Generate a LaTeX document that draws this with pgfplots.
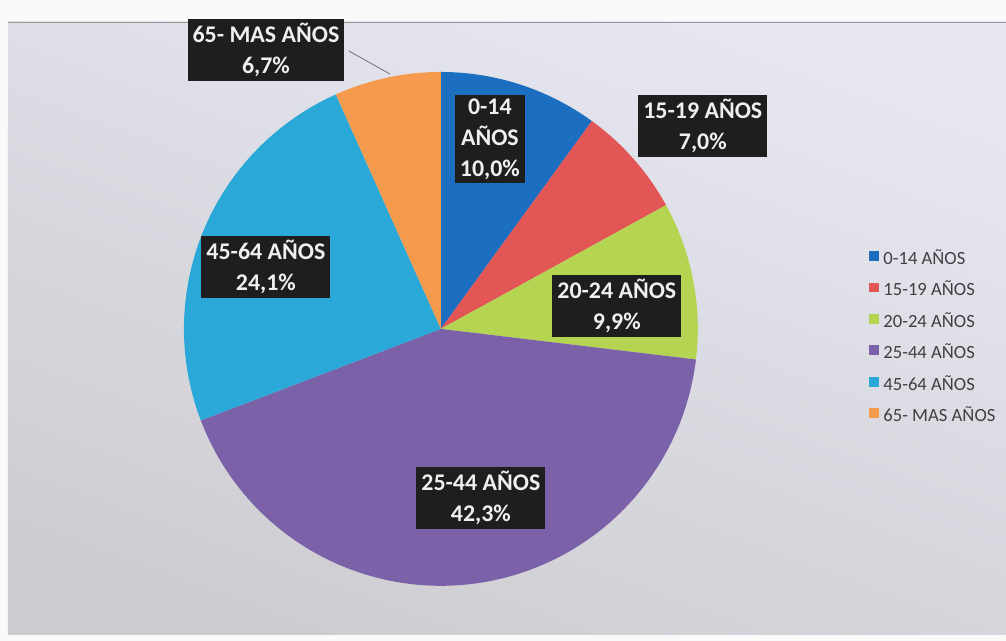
\documentclass[border=0pt]{standalone}
\usepackage{pgfplots}
\pgfplotsset{compat=1.18}
\usepackage{fontspec}
\setmainfont{Carlito}
\definecolor{cA}{HTML}{1C6FC0}
\definecolor{cB}{HTML}{E35656}
\definecolor{cC}{HTML}{B4D452}
\definecolor{cD}{HTML}{7B62A8}
\definecolor{cE}{HTML}{2AA8D8}
\definecolor{cF}{HTML}{F69A4E}
\definecolor{boxc}{HTML}{1E1E1E}
\definecolor{bgtop}{HTML}{E6E7F1}
\definecolor{bgbot}{HTML}{CDCDD1}
\tikzset{lbl/.style={fill=boxc,text=white!94!black,font=\bfseries\fontsize{24}{31}\selectfont,
    align=center,inner xsep=5bp,inner ysep=4bp}}
\begin{document}
\begin{tikzpicture}[x=1bp,y=1bp]
% data: percentages (clockwise from the top)
\def\vA{10.0}\def\vB{7.0}\def\vC{9.9}\def\vD{42.3}\def\vE{24.1}\def\vF{6.7}
\pgfmathsetmacro\aA{90}
\pgfmathsetmacro\aB{\aA-3.6*\vA}
\pgfmathsetmacro\aC{\aB-3.6*\vB}
\pgfmathsetmacro\aD{\aC-3.6*\vC}
\pgfmathsetmacro\aE{\aD-3.6*\vD}
\pgfmathsetmacro\aF{\aE-3.6*\vE}
\pgfmathsetmacro\aG{\aF-3.6*\vF}
\fill[white!96!gray] (0,0) rectangle (1006,641);
\shade[top color=bgtop, bottom color=bgbot, shading angle=-20] (8,6) rectangle (1006,619);
\draw[black!40, line width=0.6bp] (8,619) -- (1006,619);
\begin{axis}[x=1bp,y=1bp,xmin=0,xmax=1006,ymin=0,ymax=641,
  hide axis, anchor=origin, at={(0,0)}, clip=false,
  legend image code/.code={\fill[#1] (0bp,-1bp) rectangle (10bp,9bp);},
  legend style={at={(axis cs:866,392)},anchor=north west,draw=none,fill=none,
    font=\fontsize{18.7}{18.7}\selectfont, text=black!75, row sep=13.4bp, column sep=3bp,
    nodes={inner sep=1.5bp, text height=12bp, text depth=3bp}},
  legend cell align=left]
\addplot[fill=cA,draw=none,domain=\aB:\aA,samples=60]({441+257*cos(x)},{312+257*sin(x)}) -- (axis cs:441,312) -- cycle;
\addlegendentry{0-14 AÑOS}
\addplot[fill=cB,draw=none,domain=\aC:\aB,samples=60]({441+257*cos(x)},{312+257*sin(x)}) -- (axis cs:441,312) -- cycle;
\addlegendentry{15-19 AÑOS}
\addplot[fill=cC,draw=none,domain=\aD:\aC,samples=60]({441+257*cos(x)},{312+257*sin(x)}) -- (axis cs:441,312) -- cycle;
\addlegendentry{20-24 AÑOS}
\addplot[fill=cD,draw=none,domain=\aE:\aD,samples=120]({441+257*cos(x)},{312+257*sin(x)}) -- (axis cs:441,312) -- cycle;
\addlegendentry{25-44 AÑOS}
\addplot[fill=cE,draw=none,domain=\aF:\aE,samples=90]({441+257*cos(x)},{312+257*sin(x)}) -- (axis cs:441,312) -- cycle;
\addlegendentry{45-64 AÑOS}
\addplot[fill=cF,draw=none,domain=\aG:\aF,samples=40]({441+257*cos(x)},{312+257*sin(x)}) -- (axis cs:441,312) -- cycle;
\addlegendentry{65- MAS AÑOS}
\draw[black!60, line width=0.7bp] (axis cs:349,590) -- (axis cs:390,567);
\node[lbl] at (axis cs:266,591) {65- MAS AÑOS\\6,7\%};
\node[lbl] at (axis cs:490,502) {0-14\\AÑOS\\10,0\%};
\node[lbl] at (axis cs:703,515) {15-19 AÑOS\\7,0\%};
\node[lbl] at (axis cs:266,374) {45-64 AÑOS\\24,1\%};
\node[lbl] at (axis cs:617,335) {20-24 AÑOS\\9,9\%};
\node[lbl] at (axis cs:481,143) {25-44 AÑOS\\42,3\%};
\end{axis}
\end{tikzpicture}
\end{document}
